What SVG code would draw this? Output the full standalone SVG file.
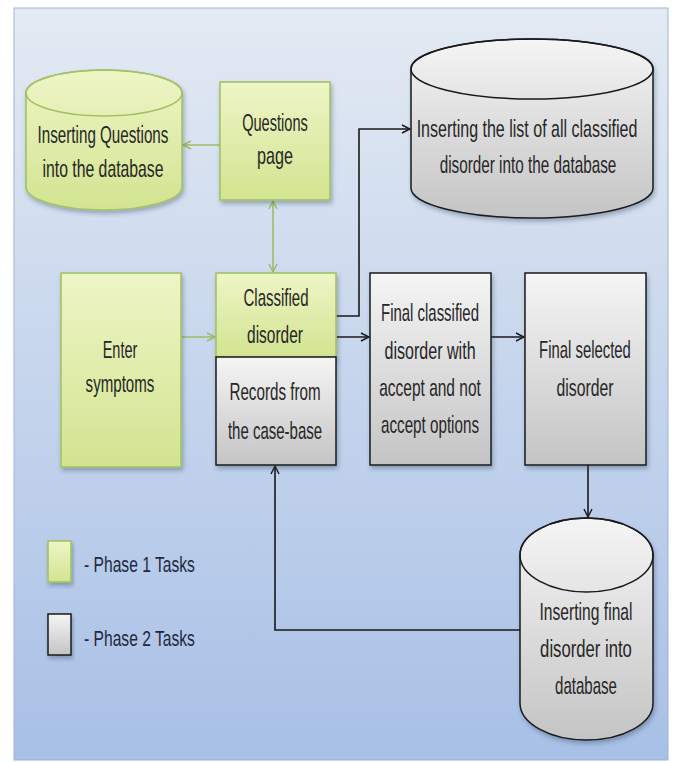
<svg xmlns="http://www.w3.org/2000/svg" width="674" height="762" viewBox="0 0 674 762">
  <defs>
    <linearGradient id="bg" x1="0" y1="0" x2="0" y2="1">
      <stop offset="0" stop-color="#e3eaf3"/>
      <stop offset="1" stop-color="#a8c0e6"/>
    </linearGradient>
    <linearGradient id="green" x1="0" y1="0" x2="0" y2="1">
      <stop offset="0" stop-color="#eef5c6"/>
      <stop offset="1" stop-color="#d2e490"/>
    </linearGradient>
    <linearGradient id="gray" x1="0" y1="0" x2="0" y2="1">
      <stop offset="0" stop-color="#f5f5f5"/>
      <stop offset="1" stop-color="#c4c4c4"/>
    </linearGradient>
    <filter id="shadow" x="-10%" y="-10%" width="125%" height="125%">
      <feDropShadow dx="1.5" dy="3" stdDeviation="2" flood-color="#2a3a55" flood-opacity="0.35"/>
    </filter>
    <marker id="arrowK" viewBox="0 0 10 10" refX="9" refY="5" markerWidth="10" markerHeight="10" markerUnits="userSpaceOnUse" orient="auto-start-reverse">
      <path d="M1,1 L9,5 L1,9" fill="none" stroke="#1a1a1a" stroke-width="1.4"/>
    </marker>
    <marker id="arrowG" viewBox="0 0 10 10" refX="9" refY="5" markerWidth="10" markerHeight="10" markerUnits="userSpaceOnUse" orient="auto-start-reverse">
      <path d="M1,1 L9,5 L1,9" fill="none" stroke="#9dbd62" stroke-width="1.4"/>
    </marker>
  </defs>
  <style>
    .p1 { fill: url(#green); stroke: #a3c264; stroke-width: 1.6; filter: url(#shadow); }
    .p2 { fill: url(#gray); stroke: #1a1a1a; stroke-width: 1.5; filter: url(#shadow); }
    .lid1 { fill: none; stroke: #a3c264; stroke-width: 1.6; }
    .lid2 { fill: none; stroke: #1a1a1a; stroke-width: 1.5; }
    /* condensed labels: each text is scaled to 0.62 horizontally around its own anchor */
    .t { font-family: "Liberation Sans", Arial, sans-serif; font-size: 24px; fill: #262626; text-anchor: middle; }
    .lg { font-family: "Liberation Sans", Arial, sans-serif; font-size: 22px; fill: #1f2940; }
    .cg { fill: none; stroke: #9dbd62; stroke-width: 1.6; }
    .ck { fill: none; stroke: #1a1a1a; stroke-width: 1.6; }
  </style>

  <!-- page background -->
  <rect x="0" y="0" width="674" height="762" fill="#ffffff"/>
  <rect x="14" y="8" width="654" height="752" fill="url(#bg)" stroke="#9fb3d0" stroke-width="1"/>

  <!-- connectors -->
  <g id="connectors">
    <line class="cg" x1="220" y1="145" x2="183" y2="145" marker-end="url(#arrowG)"/>
    <line class="cg" x1="273" y1="201" x2="273" y2="272" marker-start="url(#arrowG)" marker-end="url(#arrowG)"/>
    <line class="cg" x1="181" y1="337" x2="215" y2="337" marker-end="url(#arrowG)"/>
    <polyline class="ck" points="336,316 359,316 359,129 410,129" marker-end="url(#arrowK)"/>
    <line class="ck" x1="336" y1="337" x2="369" y2="337" marker-end="url(#arrowK)"/>
    <line class="ck" x1="491" y1="337" x2="524" y2="337" marker-end="url(#arrowK)"/>
    <line class="ck" x1="588" y1="465" x2="588" y2="517" marker-end="url(#arrowK)"/>
    <polyline class="ck" points="520,630 275,630 275,466" marker-end="url(#arrowK)"/>
  </g>

  <!-- database: questions -->
  <g id="db-questions">
    <path class="p1" d="M26,93 L26,187 A78,23 0 0 0 182,187 L182,93 A78,23 0 0 0 26,93 Z"/>
    <ellipse class="lid1" cx="104" cy="93" rx="78" ry="23"/>
    <text class="t" transform="translate(103,143) scale(0.62,1)" textLength="211" lengthAdjust="spacingAndGlyphs">Inserting Questions</text>
    <text class="t" transform="translate(103,177) scale(0.62,1)" textLength="195" lengthAdjust="spacingAndGlyphs">into the database</text>
  </g>

  <!-- questions page -->
  <g id="questions-page">
    <rect class="p1" x="220" y="82" width="110" height="118"/>
    <text class="t" transform="translate(275,131) scale(0.62,1)" textLength="106" lengthAdjust="spacingAndGlyphs">Questions</text>
    <text class="t" transform="translate(275,164) scale(0.62,1)" textLength="58" lengthAdjust="spacingAndGlyphs">page</text>
  </g>

  <!-- database: classified list -->
  <g id="db-classified">
    <path class="p2" d="M411,69 L411,188 A121,30 0 0 0 653,188 L653,69 A121,30 0 0 0 411,69 Z"/>
    <ellipse class="lid2" cx="532" cy="69" rx="121" ry="30"/>
    <text class="t" transform="translate(527,137) scale(0.62,1)" textLength="356" lengthAdjust="spacingAndGlyphs">Inserting the list of all classified</text>
    <text class="t" transform="translate(528,173) scale(0.62,1)" textLength="285" lengthAdjust="spacingAndGlyphs">disorder into the database</text>
  </g>

  <!-- enter symptoms -->
  <g id="enter-symptoms">
    <rect class="p1" x="61" y="273" width="120" height="194"/>
    <text class="t" transform="translate(120,358) scale(0.62,1)" textLength="56" lengthAdjust="spacingAndGlyphs">Enter</text>
    <text class="t" transform="translate(120,392) scale(0.62,1)" textLength="111" lengthAdjust="spacingAndGlyphs">symptoms</text>
  </g>

  <!-- classified disorder -->
  <g id="classified-disorder">
    <rect class="p1" x="216" y="273" width="120" height="84"/>
    <text class="t" transform="translate(276,306) scale(0.62,1)" textLength="105" lengthAdjust="spacingAndGlyphs">Classified</text>
    <text class="t" transform="translate(275,343) scale(0.62,1)" textLength="90" lengthAdjust="spacingAndGlyphs">disorder</text>
  </g>

  <!-- case-base records -->
  <g id="case-records">
    <rect class="p2" x="216" y="357" width="120" height="108"/>
    <text class="t" transform="translate(275,400) scale(0.62,1)" textLength="147" lengthAdjust="spacingAndGlyphs">Records from</text>
    <text class="t" transform="translate(275,439) scale(0.62,1)" textLength="152" lengthAdjust="spacingAndGlyphs">the case-base</text>
  </g>

  <!-- final classified disorder -->
  <g id="final-classified">
    <rect class="p2" x="370" y="273" width="121" height="192"/>
    <text class="t" transform="translate(430,321) scale(0.62,1)" textLength="158" lengthAdjust="spacingAndGlyphs">Final classified</text>
    <text class="t" transform="translate(430,359) scale(0.62,1)" textLength="147" lengthAdjust="spacingAndGlyphs">disorder with</text>
    <text class="t" transform="translate(430,396) scale(0.62,1)" textLength="164" lengthAdjust="spacingAndGlyphs">accept and not</text>
    <text class="t" transform="translate(430,433) scale(0.62,1)" textLength="158" lengthAdjust="spacingAndGlyphs">accept options</text>
  </g>

  <!-- final selected disorder -->
  <g id="final-selected">
    <rect class="p2" x="525" y="273" width="121" height="192"/>
    <text class="t" transform="translate(585,358) scale(0.62,1)" textLength="148" lengthAdjust="spacingAndGlyphs">Final selected</text>
    <text class="t" transform="translate(585,396) scale(0.62,1)" textLength="92" lengthAdjust="spacingAndGlyphs">disorder</text>
  </g>

  <!-- database: final disorder -->
  <g id="db-final">
    <path class="p2" d="M520,555 L520,703 A66.5,37 0 0 0 653,703 L653,555 A66.5,37 0 0 0 520,555 Z"/>
    <ellipse class="lid2" cx="586.5" cy="555" rx="66.5" ry="37"/>
    <text class="t" transform="translate(586,620) scale(0.62,1)" textLength="150" lengthAdjust="spacingAndGlyphs">Inserting final</text>
    <text class="t" transform="translate(586,657) scale(0.62,1)" textLength="148" lengthAdjust="spacingAndGlyphs">disorder into</text>
    <text class="t" transform="translate(586,694) scale(0.62,1)" textLength="100" lengthAdjust="spacingAndGlyphs">database</text>
  </g>

  <!-- legend -->
  <g id="legend">
    <rect class="p1" x="48" y="541" width="23" height="41"/>
    <text class="lg" transform="translate(84,572) scale(0.63,1)" textLength="176" lengthAdjust="spacingAndGlyphs">- Phase  1 Tasks</text>
    <rect class="p2" x="48" y="614" width="23" height="41"/>
    <text class="lg" transform="translate(84,646) scale(0.63,1)" textLength="176" lengthAdjust="spacingAndGlyphs">- Phase  2 Tasks</text>
  </g>
</svg>
